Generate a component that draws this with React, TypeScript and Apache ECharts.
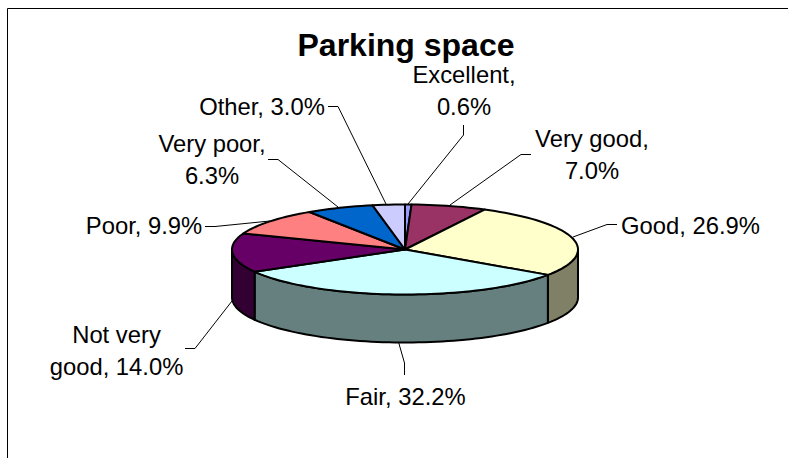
import React, { useEffect, useRef } from "react";
import * as echarts from "echarts";

const categories = ["Excellent", "Very good", "Good", "Fair", "Not very good", "Poor", "Very poor", "Other"];
const shares = [0.6, 7.0, 26.9, 32.2, 14.0, 9.9, 6.3, 3.0];
const labelTexts = [
  "Excellent,\n0.6%",
  "Very good,\n7.0%",
  "Good, 26.9%",
  "Fair, 32.2%",
  "Not very\ngood, 14.0%",
  "Poor, 9.9%",
  "Very poor,\n6.3%",
  "Other, 3.0%",
];
const topColors = ["#9999FF", "#993366", "#FFFFCC", "#CCFFFF", "#660066", "#FF8080", "#0066CC", "#CCCCFF"];
const sideColors = ["#4D4D80", "#4D1A33", "#808066", "#668080", "#330033", "#804040", "#003366", "#666680"];

const CX = 405;
const CY = 249.5;
const RX = 173;
const RY = 45;
const DEPTH = 48;

const labelPos: [number, number][] = [
  [464, 90.5], [592, 154.5], [690.5, 225.5], [405.5, 396.5], [116.5, 350], [144, 225.5], [212, 159], [262, 106.5],
];
const leaderLines: [number, number][][] = [
  [[463.5, 125], [463.5, 135], [408, 204]],
  [[531, 154.5], [521, 154.5], [450, 205]],
  [[617, 224.5], [607, 224.5], [573, 237]],
  [[404.5, 375], [404.5, 363], [398.5, 342]],
  [[185, 348.5], [195, 348.5], [232, 301]],
  [[205, 226.5], [215, 226.5], [270, 221]],
  [[268, 159.5], [278, 159.5], [338, 207]],
  [[328, 106.5], [338, 106.5], [386, 204]],
];

const total = shares.reduce((a, b) => a + b, 0);
const cumulative: number[] = [];
shares.reduce((acc, v, i) => {
  cumulative[i] = acc;
  return acc + v;
}, 0);

const pt = (deg: number, dy = 0): number[] => {
  const r = (deg * Math.PI) / 180;
  return [CX + RX * Math.sin(r), CY - RY * Math.cos(r) + dy];
};
const arcPoints = (a: number, b: number, dy = 0): number[][] => {
  const out: number[][] = [];
  const n = Math.max(2, Math.ceil(Math.abs(b - a) / 2));
  for (let i = 0; i <= n; i++) out.push(pt(a + ((b - a) * i) / n, dy));
  return out;
};

const sideItem = (_: any, api: any) => {
  const i = api.value(0);
  const a = (cumulative[i] / total) * 360;
  const b = ((cumulative[i] + shares[i]) / total) * 360;
  const from = Math.max(a, 90);
  const to = Math.min(b, 270);
  if (to <= from) return { type: "group", children: [] };
  const pts = [...arcPoints(from, to), ...arcPoints(to, from, DEPTH)];
  return {
    type: "polygon",
    shape: { points: pts },
    style: { fill: sideColors[i], stroke: "#000", lineWidth: 2, lineJoin: "round" },
  };
};

const topItem = (_: any, api: any) => {
  const i = api.value(0);
  const a = (cumulative[i] / total) * 360;
  const b = ((cumulative[i] + shares[i]) / total) * 360;
  const pts = [[CX, CY], ...arcPoints(a, b)];
  return {
    type: "polygon",
    shape: { points: pts },
    style: { fill: topColors[i], stroke: "#000", lineWidth: 2, lineJoin: "round" },
  };
};

export default function App() {
  const ref = useRef<HTMLDivElement>(null);
  useEffect(() => {
    if (!ref.current) return;
    document.body.style.margin = "0";
    const chart = echarts.init(ref.current, undefined, { renderer: "svg" });
    const seriesData = categories.map((name, i) => ({ name, value: [i, shares[i]] }));
    chart.setOption({
      animation: false,
      backgroundColor: "#FFFFFF",
      title: {
        text: "Parking space",
        left: 401,
        top: 24,
        textAlign: "center",
        textStyle: { fontFamily: "Liberation Sans", fontSize: 32, fontWeight: "bold", color: "#000" },
      },
      tooltip: { show: false },
      series: [
        { type: "custom", coordinateSystem: "none", renderItem: sideItem, data: seriesData, silent: true },
        { type: "custom", coordinateSystem: "none", renderItem: topItem, data: seriesData, silent: true },
      ],
      graphic: [
        { type: "line", shape: { x1: 7.5, y1: 8.5, x2: 788, y2: 8.5 }, style: { stroke: "#000", lineWidth: 1 }, silent: true },
        { type: "line", shape: { x1: 7.5, y1: 8.5, x2: 7.5, y2: 458 }, style: { stroke: "#000", lineWidth: 1 }, silent: true },
        ...leaderLines.map((points) => ({
          type: "polyline",
          shape: { points },
          style: { stroke: "#000", lineWidth: 1, fill: "none" },
          silent: true,
        })),
        ...labelTexts.map((text, i) => ({
          type: "text",
          x: labelPos[i][0],
          y: labelPos[i][1],
          silent: true,
          style: {
            text,
            fontFamily: "Liberation Sans",
            fontSize: 23.8,
            lineHeight: 32,
            fill: "#000",
            align: "center",
            verticalAlign: "middle",
          },
        })),
      ],
    });
    return () => chart.dispose();
  }, []);
  return <div ref={ref} style={{ width: 788, height: 459 }} />;
}
